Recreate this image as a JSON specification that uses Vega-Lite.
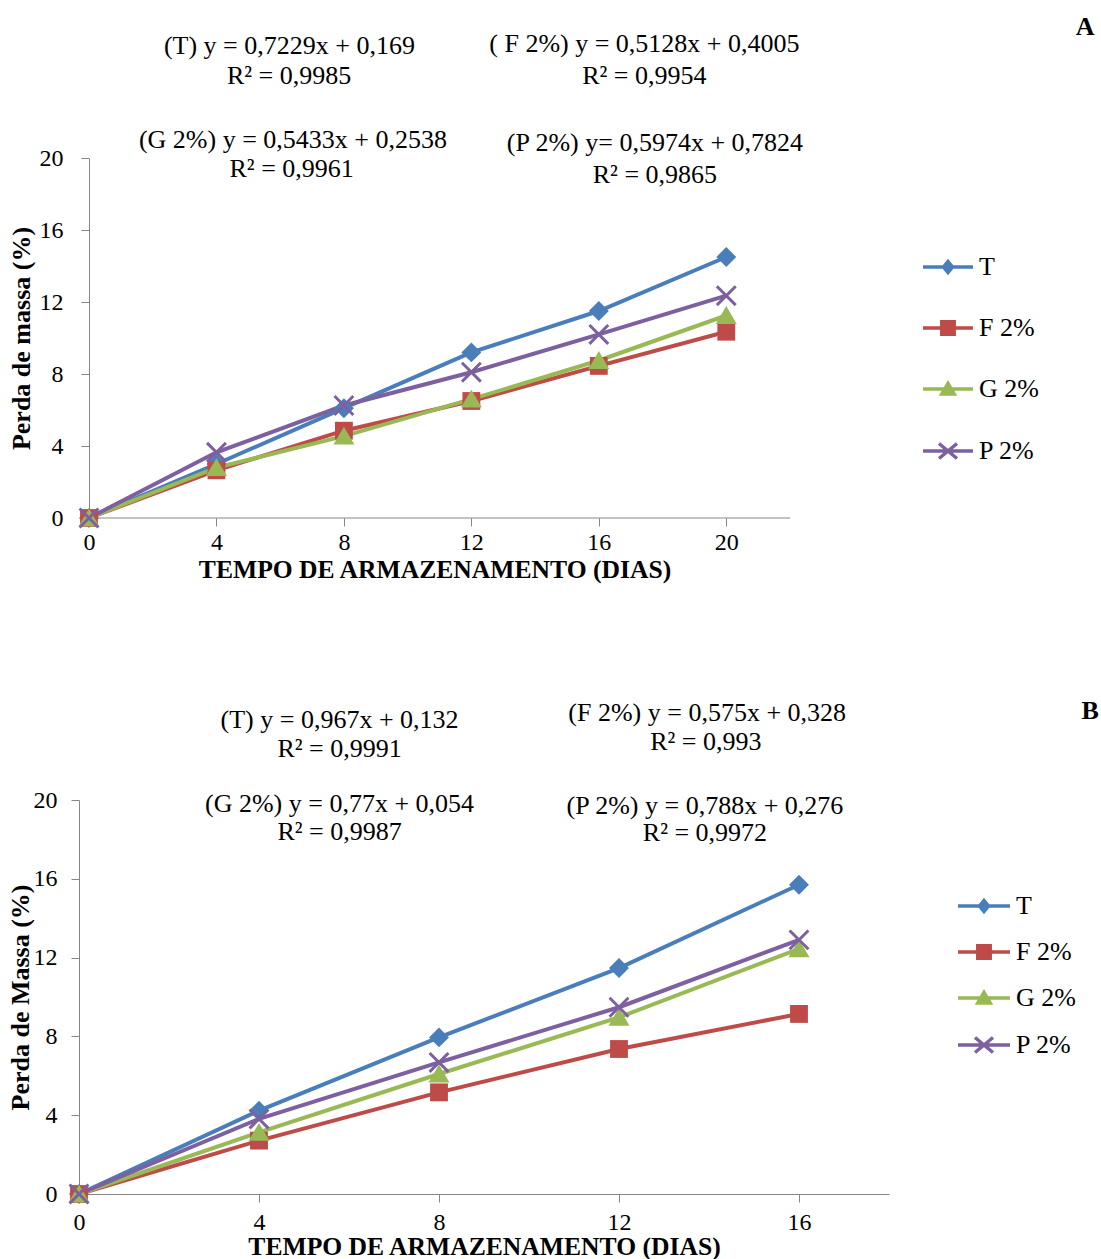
{
  "$schema": "https://vega.github.io/schema/vega-lite/v6.json",
  "padding": {"left": 7, "top": 13, "right": 0, "bottom": 0},
  "spacing": 114,
  "columns": 1,
  "bounds": "full",
  "resolve": {"scale": {"color": "independent"}, "legend": {"color": "independent"}},
  "datasets": {
    "a": [
      {"dia": 0, "perda": 0, "tratamento": "T"},
      {"dia": 4, "perda": 3.0, "tratamento": "T"},
      {"dia": 8, "perda": 6.1, "tratamento": "T"},
      {"dia": 12, "perda": 9.2, "tratamento": "T"},
      {"dia": 16, "perda": 11.5, "tratamento": "T"},
      {"dia": 20, "perda": 14.5, "tratamento": "T"},
      {"dia": 0, "perda": 0, "tratamento": "F 2%"},
      {"dia": 4, "perda": 2.65, "tratamento": "F 2%"},
      {"dia": 8, "perda": 4.85, "tratamento": "F 2%"},
      {"dia": 12, "perda": 6.5, "tratamento": "F 2%"},
      {"dia": 16, "perda": 8.45, "tratamento": "F 2%"},
      {"dia": 20, "perda": 10.35, "tratamento": "F 2%"},
      {"dia": 0, "perda": 0, "tratamento": "G 2%"},
      {"dia": 4, "perda": 2.8, "tratamento": "G 2%"},
      {"dia": 8, "perda": 4.55, "tratamento": "G 2%"},
      {"dia": 12, "perda": 6.6, "tratamento": "G 2%"},
      {"dia": 16, "perda": 8.75, "tratamento": "G 2%"},
      {"dia": 20, "perda": 11.25, "tratamento": "G 2%"},
      {"dia": 0, "perda": 0, "tratamento": "P 2%"},
      {"dia": 4, "perda": 3.65, "tratamento": "P 2%"},
      {"dia": 8, "perda": 6.25, "tratamento": "P 2%"},
      {"dia": 12, "perda": 8.1, "tratamento": "P 2%"},
      {"dia": 16, "perda": 10.2, "tratamento": "P 2%"},
      {"dia": 20, "perda": 12.35, "tratamento": "P 2%"}
    ],
    "b": [
      {"dia": 0, "perda": 0, "tratamento": "T"},
      {"dia": 4, "perda": 4.23, "tratamento": "T"},
      {"dia": 8, "perda": 7.95, "tratamento": "T"},
      {"dia": 12, "perda": 11.47, "tratamento": "T"},
      {"dia": 16, "perda": 15.7, "tratamento": "T"},
      {"dia": 0, "perda": 0, "tratamento": "F 2%"},
      {"dia": 4, "perda": 2.71, "tratamento": "F 2%"},
      {"dia": 8, "perda": 5.16, "tratamento": "F 2%"},
      {"dia": 12, "perda": 7.36, "tratamento": "F 2%"},
      {"dia": 16, "perda": 9.14, "tratamento": "F 2%"},
      {"dia": 0, "perda": 0, "tratamento": "G 2%"},
      {"dia": 4, "perda": 3.13, "tratamento": "G 2%"},
      {"dia": 8, "perda": 6.09, "tratamento": "G 2%"},
      {"dia": 12, "perda": 8.97, "tratamento": "G 2%"},
      {"dia": 16, "perda": 12.44, "tratamento": "G 2%"},
      {"dia": 0, "perda": 0, "tratamento": "P 2%"},
      {"dia": 4, "perda": 3.81, "tratamento": "P 2%"},
      {"dia": 8, "perda": 6.68, "tratamento": "P 2%"},
      {"dia": 12, "perda": 9.48, "tratamento": "P 2%"},
      {"dia": 16, "perda": 12.9, "tratamento": "P 2%"}
    ],
    "eqA": [
      {"dia": 6.29, "perda": 26.22, "texto": "(T) y = 0,7229x + 0,169"},
      {"dia": 6.28, "perda": 24.56, "texto": "R² = 0,9985"},
      {"dia": 17.43, "perda": 26.33, "texto": "( F 2%) y = 0,5128x + 0,4005"},
      {"dia": 17.43, "perda": 24.58, "texto": "R² = 0,9954"},
      {"dia": 6.4, "perda": 21.0, "texto": "(G 2%) y = 0,5433x + 0,2538"},
      {"dia": 6.36, "perda": 19.39, "texto": "R² = 0,9961"},
      {"dia": 17.76, "perda": 20.83, "texto": "(P 2%) y= 0,5974x + 0,7824"},
      {"dia": 17.76, "perda": 19.06, "texto": "R² = 0,9865"}
    ],
    "eqB": [
      {"dia": 5.79, "perda": 24.06, "texto": "(T) y = 0,967x + 0,132"},
      {"dia": 5.79, "perda": 22.59, "texto": "R² = 0,9991"},
      {"dia": 13.96, "perda": 24.42, "texto": "(F 2%) y = 0,575x + 0,328"},
      {"dia": 13.93, "perda": 22.94, "texto": "R² = 0,993"},
      {"dia": 5.79, "perda": 19.8, "texto": "(G 2%) y = 0,77x + 0,054"},
      {"dia": 5.79, "perda": 18.38, "texto": "R² = 0,9987"},
      {"dia": 13.91, "perda": 19.7, "texto": "(P 2%) y = 0,788x + 0,276"},
      {"dia": 13.91, "perda": 18.32, "texto": "R² = 0,9972"}
    ],
    "lblA": [{"dia": 31.26, "perda": 27.28, "texto": "A"}],
    "lblB": [{"dia": 22.47, "perda": 24.52, "texto": "B"}]
  },
  "concat": [
    {
      "width": 711,
      "height": 360,
      "layer": [
        {
          "data": {"values": [{}]},
          "mark": {"type": "rule", "color": "#868686", "strokeWidth": 1},
          "encoding": {
            "x": {"datum": 0, "type": "quantitative"},
            "x2": {"datum": 22},
            "y": {"datum": 0, "type": "quantitative"}
          }
        },
        {
          "data": {"name": "a"},
          "mark": {"type": "line", "strokeWidth": 4},
          "encoding": {
            "x": {"field": "dia", "type": "quantitative", "scale": {"domain": [-0.3138, 22], "nice": false, "zero": false},
                  "axis": {"title": "TEMPO DE ARMAZENAMENTO (DIAS)", "values": [0, 4, 8, 12, 16, 20], "domain": false, "labelPadding": 4, "titlePadding": 3}},
            "y": {"field": "perda", "type": "quantitative", "scale": {"domain": [0, 20], "nice": false},
                  "axis": {"title": "Perda de massa (%)", "values": [0, 4, 8, 12, 16, 20], "offset": -10, "labelPadding": 18, "titlePadding": 5}},
            "color": {"field": "tratamento", "type": "nominal",
              "scale": {"domain": ["T", "F 2%", "G 2%", "P 2%"], "range": ["#4A7EBB", "#BE4B48", "#98B954", "#7D60A0"]},
              "legend": {"title": null, "orient": "none", "legendX": 856, "legendY": 96, "rowPadding": 34, "labelOffset": 18, "symbolSize": 400, "padding": 0,
                "encode": {"symbols": {"update": {
                  "shape": {"signal": "datum.value === 'T' ? 'M-2.5,0H2.5M0,-0.55L0.45,0L0,0.55L-0.45,0Z' : datum.value === 'F 2%' ? 'M-2.5,0H2.5M-0.62,-0.62H0.62V0.62H-0.62Z' : datum.value === 'G 2%' ? 'M-2.5,0H2.5M0,-0.55L0.62,0.5H-0.62Z' : 'M-2.5,0H2.5M-0.9,-0.75L0.9,0.75M-0.9,0.75L0.9,-0.75'"},
                  "fill": {"signal": "datum.value === 'T' ? '#4A7EBB' : datum.value === 'F 2%' ? '#BE4B48' : datum.value === 'G 2%' ? '#98B954' : '#7D60A0'"},
                  "stroke": {"signal": "datum.value === 'T' ? '#4A7EBB' : datum.value === 'F 2%' ? '#BE4B48' : datum.value === 'G 2%' ? '#98B954' : '#7D60A0'"},
                  "strokeWidth": {"value": 3.5},
                  "size": {"value": 400},
                  "opacity": {"value": 1}
                }}}}
            }
          }
        },
        {
          "data": {"name": "a"},
          "transform": [{"filter": "datum.tratamento === 'T'"}],
          "mark": {"type": "point", "filled": true, "opacity": 1, "size": 440, "color": "#4A7EBB", "shape": "M0,-0.95L0.95,0L0,0.95L-0.95,0Z"},
          "encoding": {"x": {"field": "dia", "type": "quantitative"}, "y": {"field": "perda", "type": "quantitative"}}
        },
        {
          "data": {"name": "a"},
          "transform": [{"filter": "datum.tratamento === 'F 2%'"}],
          "mark": {"type": "point", "filled": true, "opacity": 1, "size": 440, "color": "#BE4B48", "shape": "M-0.85,-0.85H0.85V0.85H-0.85Z"},
          "encoding": {"x": {"field": "dia", "type": "quantitative"}, "y": {"field": "perda", "type": "quantitative"}}
        },
        {
          "data": {"name": "a"},
          "transform": [{"filter": "datum.tratamento === 'G 2%'"}],
          "mark": {"type": "point", "filled": true, "opacity": 1, "size": 440, "color": "#98B954", "shape": "M0,-0.9L1,0.8H-1Z"},
          "encoding": {"x": {"field": "dia", "type": "quantitative"}, "y": {"field": "perda", "type": "quantitative"}}
        },
        {
          "data": {"name": "a"},
          "transform": [{"filter": "datum.tratamento === 'P 2%'"}],
          "mark": {"type": "point", "filled": true, "opacity": 1, "size": 440, "color": "#7D60A0", "shape": "M-1,-0.8L-0.8,-1L1,0.8L0.8,1ZM1,-0.8L-0.8,1L-1,0.8L0.8,-1Z"},
          "encoding": {"x": {"field": "dia", "type": "quantitative"}, "y": {"field": "perda", "type": "quantitative"}}
        },
        {
          "data": {"name": "eqA"},
          "mark": {"type": "text", "fontSize": 26, "align": "center", "baseline": "middle", "color": "#000"},
          "encoding": {
            "x": {"field": "dia", "type": "quantitative"},
            "y": {"field": "perda", "type": "quantitative"},
            "text": {"field": "texto"}
          }
        },
        {
          "data": {"name": "lblA"},
          "mark": {"type": "text", "fontSize": 26, "fontWeight": "bold", "align": "center", "baseline": "middle", "color": "#000"},
          "encoding": {
            "x": {"field": "dia", "type": "quantitative"},
            "y": {"field": "perda", "type": "quantitative"},
            "text": {"field": "texto"}
          }
        }
      ]
    },
    {
      "width": 810,
      "height": 394,
      "layer": [
        {
          "data": {"name": "b"},
          "mark": {"type": "line", "strokeWidth": 4},
          "encoding": {
            "x": {"field": "dia", "type": "quantitative", "scale": {"domain": [0, 18], "nice": false},
                  "axis": {"title": "TEMPO DE ARMAZENAMENTO (DIAS)", "values": [0, 4, 8, 12, 16], "labelPadding": 8, "titlePadding": 0}},
            "y": {"field": "perda", "type": "quantitative", "scale": {"domain": [0, 20], "nice": false},
                  "axis": {"title": "Perda de Massa (%)", "values": [0, 4, 8, 12, 16, 20], "labelPadding": 14, "titlePadding": 0}},
            "color": {"field": "tratamento", "type": "nominal",
              "scale": {"domain": ["T", "F 2%", "G 2%", "P 2%"], "range": ["#4A7EBB", "#BE4B48", "#98B954", "#7D60A0"]},
              "legend": {"title": null, "orient": "none", "legendX": 892, "legendY": 93, "rowPadding": 19, "labelOffset": 19, "symbolSize": 400, "padding": 0,
                "encode": {"symbols": {"update": {
                  "shape": {"signal": "datum.value === 'T' ? 'M-2.6,0H2.6M0,-0.55L0.45,0L0,0.55L-0.45,0Z' : datum.value === 'F 2%' ? 'M-2.6,0H2.6M-0.62,-0.62H0.62V0.62H-0.62Z' : datum.value === 'G 2%' ? 'M-2.6,0H2.6M0,-0.55L0.62,0.5H-0.62Z' : 'M-2.6,0H2.6M-0.9,-0.75L0.9,0.75M-0.9,0.75L0.9,-0.75'"},
                  "fill": {"signal": "datum.value === 'T' ? '#4A7EBB' : datum.value === 'F 2%' ? '#BE4B48' : datum.value === 'G 2%' ? '#98B954' : '#7D60A0'"},
                  "stroke": {"signal": "datum.value === 'T' ? '#4A7EBB' : datum.value === 'F 2%' ? '#BE4B48' : datum.value === 'G 2%' ? '#98B954' : '#7D60A0'"},
                  "strokeWidth": {"value": 3.5},
                  "size": {"value": 400},
                  "opacity": {"value": 1}
                }}}}
            }
          }
        },
        {
          "data": {"name": "b"},
          "transform": [{"filter": "datum.tratamento === 'T'"}],
          "mark": {"type": "point", "filled": true, "opacity": 1, "size": 440, "color": "#4A7EBB", "shape": "M0,-0.95L0.95,0L0,0.95L-0.95,0Z"},
          "encoding": {"x": {"field": "dia", "type": "quantitative"}, "y": {"field": "perda", "type": "quantitative"}}
        },
        {
          "data": {"name": "b"},
          "transform": [{"filter": "datum.tratamento === 'F 2%'"}],
          "mark": {"type": "point", "filled": true, "opacity": 1, "size": 440, "color": "#BE4B48", "shape": "M-0.85,-0.85H0.85V0.85H-0.85Z"},
          "encoding": {"x": {"field": "dia", "type": "quantitative"}, "y": {"field": "perda", "type": "quantitative"}}
        },
        {
          "data": {"name": "b"},
          "transform": [{"filter": "datum.tratamento === 'G 2%'"}],
          "mark": {"type": "point", "filled": true, "opacity": 1, "size": 440, "color": "#98B954", "shape": "M0,-0.9L1,0.8H-1Z"},
          "encoding": {"x": {"field": "dia", "type": "quantitative"}, "y": {"field": "perda", "type": "quantitative"}}
        },
        {
          "data": {"name": "b"},
          "transform": [{"filter": "datum.tratamento === 'P 2%'"}],
          "mark": {"type": "point", "filled": true, "opacity": 1, "size": 440, "color": "#7D60A0", "shape": "M-1,-0.8L-0.8,-1L1,0.8L0.8,1ZM1,-0.8L-0.8,1L-1,0.8L0.8,-1Z"},
          "encoding": {"x": {"field": "dia", "type": "quantitative"}, "y": {"field": "perda", "type": "quantitative"}}
        },
        {
          "data": {"name": "eqB"},
          "mark": {"type": "text", "fontSize": 26, "align": "center", "baseline": "middle", "color": "#000"},
          "encoding": {
            "x": {"field": "dia", "type": "quantitative"},
            "y": {"field": "perda", "type": "quantitative"},
            "text": {"field": "texto"}
          }
        },
        {
          "data": {"name": "lblB"},
          "mark": {"type": "text", "fontSize": 26, "fontWeight": "bold", "align": "center", "baseline": "middle", "color": "#000"},
          "encoding": {
            "x": {"field": "dia", "type": "quantitative"},
            "y": {"field": "perda", "type": "quantitative"},
            "text": {"field": "texto"}
          }
        }
      ]
    }
  ],
  "config": {
    "font": "Liberation Serif",
    "view": {"stroke": null},
    "axis": {
      "grid": false,
      "domainColor": "#868686",
      "tickColor": "#868686",
      "tickSize": 8,
      "labelFlush": false,
      "labelFont": "Liberation Serif",
      "labelFontSize": 24,
      "labelColor": "#000",
      "titleFont": "Liberation Serif",
      "titleFontSize": 25.6,
      "titleFontWeight": "bold",
      "titleColor": "#000"
    },
    "axisY": {"titleFontSize": 26},
    "legend": {
      "labelFont": "Liberation Serif",
      "labelFontSize": 26,
      "labelColor": "#000"
    },
    "text": {"font": "Liberation Serif"}
  }
}
